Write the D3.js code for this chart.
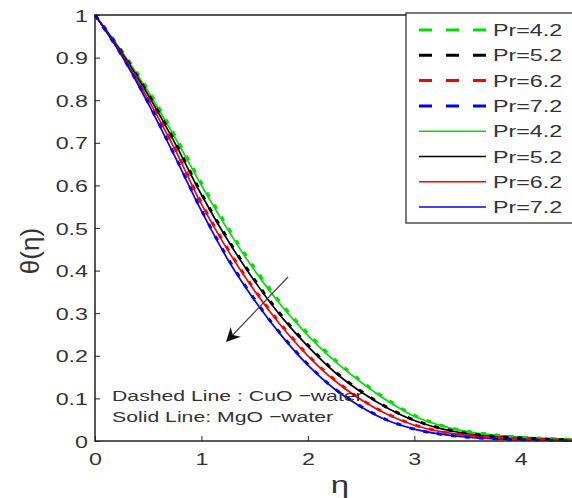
<!DOCTYPE html>
<html>
<head>
<meta charset="utf-8">
<script src="https://cdnjs.cloudflare.com/ajax/libs/d3/7.8.5/d3.min.js"></script>
<style>
  body { margin: 0; background: #fff; }
  text { font-family: "Liberation Sans", Arial, sans-serif; fill: #333; }
</style>
</head>
<body>
<div id="chart"></div>
<script>
// eta grid and theta values
var eta = [0, 0.25, 0.5, 0.75, 1, 1.25, 1.5, 1.75, 2, 2.25, 2.5, 2.75, 3, 3.25, 3.5, 3.75, 4, 4.25, 4.5];

// solid lines: MgO-water
var mgo42 = [1, 0.915, 0.820, 0.713, 0.600, 0.495, 0.400, 0.318, 0.248, 0.188, 0.138, 0.094, 0.058, 0.036, 0.022, 0.014, 0.009, 0.006, 0.004];
var mgo52 = [1, 0.912, 0.812, 0.700, 0.578, 0.470, 0.375, 0.292, 0.222, 0.162, 0.115, 0.077, 0.048, 0.029, 0.017, 0.011, 0.007, 0.004, 0.002];
var mgo62 = [1, 0.908, 0.802, 0.685, 0.556, 0.447, 0.352, 0.270, 0.200, 0.142, 0.097, 0.062, 0.037, 0.022, 0.013, 0.008, 0.005, 0.003, 0.0015];
var mgo72 = [1, 0.905, 0.792, 0.668, 0.540, 0.425, 0.330, 0.248, 0.178, 0.122, 0.080, 0.048, 0.028, 0.016, 0.009, 0.005, 0.003, 0.002, 0.001];

// dashed lines: CuO-water
var cuo42 = [1, 0.917, 0.824, 0.718, 0.606, 0.501, 0.406, 0.323, 0.253, 0.192, 0.141, 0.097, 0.060, 0.037, 0.023, 0.015, 0.009, 0.006, 0.004];
var cuo52 = [1, 0.913, 0.814, 0.703, 0.581, 0.473, 0.378, 0.295, 0.225, 0.164, 0.117, 0.078, 0.049, 0.030, 0.018, 0.011, 0.007, 0.004, 0.002];
var cuo62 = [1, 0.909, 0.804, 0.688, 0.559, 0.450, 0.355, 0.273, 0.202, 0.144, 0.098, 0.063, 0.038, 0.022, 0.013, 0.008, 0.005, 0.003, 0.0015];
var cuo72 = [1, 0.906, 0.794, 0.670, 0.542, 0.428, 0.332, 0.250, 0.180, 0.123, 0.081, 0.049, 0.028, 0.016, 0.009, 0.005, 0.003, 0.002, 0.001];

var legendLabels = ["Pr=4.2", "Pr=5.2", "Pr=6.2", "Pr=7.2", "Pr=4.2", "Pr=5.2", "Pr=6.2", "Pr=7.2"];
var xTicks = [0, 1, 2, 3, 4];
var yTicks = [0, 0.1, 0.2, 0.3, 0.4, 0.5, 0.6, 0.7, 0.8, 0.9, 1];

var colors = ["#00e000", "#000000", "#ff0000", "#0000ff"];

var svgWidth = 572;
var svgHeight = 498;
var sx = 1.37; // the figure text is stretched sideways

var margin = { top: 15, bottom: 57, right: -2, left: 95 };
var width = svgWidth - margin.left - margin.right;
var height = svgHeight - margin.top - margin.bottom;

var svg = d3.select("#chart")
  .append("svg")
  .attr("width", svgWidth)
  .attr("height", svgHeight);

var chartGroup = svg.append("g")
  .attr("transform", `translate(${margin.left}, ${margin.top})`);

var xScale = d3.scaleLinear().domain([0, 4.5]).range([0, width]);
var yScale = d3.scaleLinear().domain([0, 1]).range([height, 0]);

function wideText(g, x, y, str, size, anchor) {
  return g.append("text")
    .attr("transform", `translate(${x}, ${y}) scale(${sx}, 1)`)
    .attr("font-size", size)
    .attr("text-anchor", anchor || "start")
    .text(str);
}

var line = d3.line()
  .x(function(d, i) { return xScale(eta[i]); })
  .y(function(d) { return yScale(d); })
  .curve(d3.curveCatmullRom);

// solid first, dashed on top
[mgo42, mgo52, mgo62, mgo72].forEach(function(s, i) {
  chartGroup.append("path")
    .attr("d", line(s))
    .attr("fill", "none")
    .attr("stroke", colors[i])
    .attr("stroke-width", 1.7);
});

[cuo42, cuo52, cuo62, cuo72].forEach(function(s, i) {
  chartGroup.append("path")
    .attr("d", line(s))
    .attr("fill", "none")
    .attr("stroke", colors[i])
    .attr("stroke-width", 3)
    .attr("stroke-dasharray", "5,9");
});

// box and ticks (matlab style, ticks inside)
chartGroup.append("rect")
  .attr("x", 0).attr("y", 0)
  .attr("width", width).attr("height", height)
  .attr("fill", "none")
  .attr("stroke", "#222")
  .attr("stroke-width", 1.5);

var xAxis = d3.axisBottom(xScale).tickValues(xTicks).tickSizeInner(-5).tickSizeOuter(0).tickFormat(d3.format("~g"));
var yAxis = d3.axisLeft(yScale).tickValues(yTicks).tickSizeInner(-5).tickSizeOuter(0).tickFormat(d3.format("~g"));

var gx = chartGroup.append("g")
  .attr("transform", `translate(0, ${height})`)
  .call(xAxis);
var gy = chartGroup.append("g").call(yAxis);

[gx, gy].forEach(function(g) {
  g.select(".domain").remove();
  g.selectAll("line").attr("stroke", "#222");
  g.selectAll("text")
    .attr("x", null).attr("y", null).attr("dy", null)
    .attr("font-size", "17px")
    .attr("font-family", "Liberation Sans, Arial, sans-serif")
    .attr("fill", "#333");
});
gx.selectAll("text").attr("transform", `translate(0, 24) scale(${sx}, 1)`);
gy.selectAll("text").attr("transform", `translate(-7, 6) scale(${sx}, 1)`);

// axis titles
chartGroup.append("text")
  .attr("transform", "rotate(-90)")
  .attr("x", -236)
  .attr("y", -56)
  .attr("text-anchor", "middle")
  .attr("font-size", "26px")
  .text("θ(η)");

wideText(chartGroup, 245, height + 52, "η", "24px", "middle");

// annotation
wideText(chartGroup, 17, 386, "Dashed Line : CuO \u2212water", "15.5px");
wideText(chartGroup, 17, 407, "Solid Line: MgO \u2212water", "15.5px");

// arrow
svg.append("defs").append("marker")
  .attr("id", "head")
  .attr("viewBox", "0 0 10 10")
  .attr("refX", 9).attr("refY", 5)
  .attr("markerWidth", 14).attr("markerHeight", 14)
  .attr("markerUnits", "userSpaceOnUse")
  .attr("orient", "auto")
  .append("path")
  .attr("d", "M0,0 L10,5 L0,10 L3,5 Z")
  .attr("fill", "#111");

svg.append("line")
  .attr("x1", 288).attr("y1", 277)
  .attr("x2", 227).attr("y2", 341)
  .attr("stroke", "#444")
  .attr("stroke-width", 1.2)
  .attr("marker-end", "url(#head)");

// legend
var legend = svg.append("g").attr("transform", "translate(406, 13)");
legend.append("rect")
  .attr("width", 170).attr("height", 210)
  .attr("fill", "#fff")
  .attr("stroke", "#222")
  .attr("stroke-width", 1.2);

legendLabels.forEach(function(lab, i) {
  var y = 17 + i * 25.3;
  legend.append("line")
    .attr("x1", 13).attr("x2", 80)
    .attr("y1", y).attr("y2", y)
    .attr("stroke", colors[i % 4])
    .attr("stroke-width", i < 4 ? 3 : 1.5)
    .attr("stroke-dasharray", i < 4 ? "13,14" : null);
  wideText(legend, 87, y + 6, lab, "17px");
});
</script>
</body>
</html>
